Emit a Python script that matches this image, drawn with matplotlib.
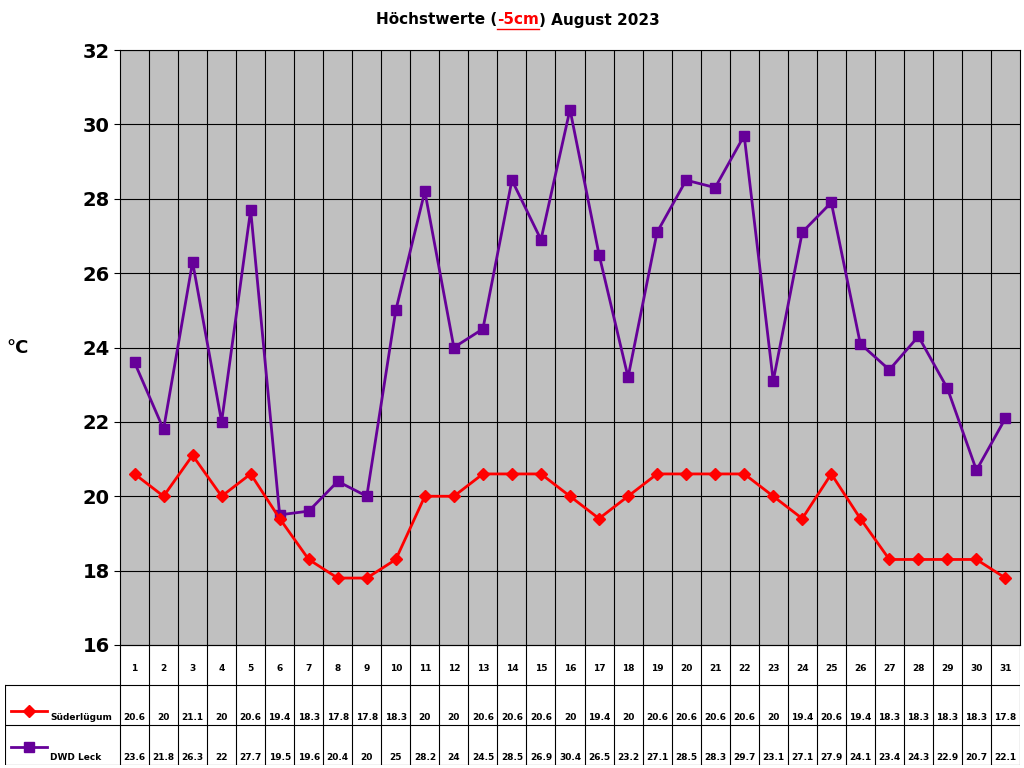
import matplotlib
matplotlib.use("Agg")
import matplotlib.pyplot as plt
from matplotlib.lines import Line2D

days = list(range(1, 32))
suederluegum = [20.6,20,21.1,20,20.6,19.4,18.3,17.8,17.8,18.3,20,20,20.6,20.6,20.6,20,19.4,20,20.6,20.6,20.6,20.6,20,19.4,20.6,19.4,18.3,18.3,18.3,18.3,17.8]
dwd_leck = [23.6,21.8,26.3,22,27.7,19.5,19.6,20.4,20,25,28.2,24,24.5,28.5,26.9,30.4,26.5,23.2,27.1,28.5,28.3,29.7,23.1,27.1,27.9,24.1,23.4,24.3,22.9,20.7,22.1]
series_names = ["Süderlügum", "DWD Leck"]
yticks = [16,18,20,22,24,26,28,30,32]

W, H = 1024, 768
fig = plt.figure(figsize=(10.24, 7.68), dpi=100)
fig.patch.set_facecolor("white")

ax = fig.add_axes([120/W, 1-645/H, 900/W, 595/H])
ax.set_facecolor("#c0c0c0")
ax.set_xlim(0.5, 31.5)
ax.set_ylim(16, 32)
ax.set_yticks(yticks)
ax.set_yticklabels([str(v) for v in yticks], fontsize=14, fontweight="bold")
ax.set_xticks([])
for y in yticks:
    ax.axhline(y, color="black", lw=0.8)
for x in range(1, 31):
    ax.axvline(x + 0.5, color="black", lw=0.8)
for s in ax.spines.values():
    s.set_color("black")
ax.tick_params(axis="y", length=4)
ax.plot(days, dwd_leck, color="#660099", lw=2, marker="s", ms=7.5, mfc="#660099", mec="#660099", zorder=3)
ax.plot(days, suederluegum, color="red", lw=2, marker="D", ms=6.5, mfc="red", mec="red", zorder=3)
fig.text(18/W, 1-348/H, "°C", fontsize=13, fontweight="bold", ha="center", va="center")

# table
tx = fig.add_axes([5/W, 1-765/H, 1015/W, 120/H])
left = 0.5 - 115/(900/31)
tx.set_xlim(left, 31.5)
tx.set_ylim(3, 0)
tx.axis("off")
lw = 0.8
for x in range(0, 32):
    tx.plot([x + 0.5, x + 0.5], [0, 3], color="black", lw=lw)
tx.plot([left, left], [1, 3], color="black", lw=lw)
for y in [1, 2, 3]:
    tx.plot([left, 31.5], [y, y], color="black", lw=lw)
tx.plot([0.5, 31.5], [0, 0], color="black", lw=lw)
fs = 6.5
for d in days:
    tx.text(d, 0.58, str(d), ha="center", va="center", fontsize=fs, fontweight="bold")
    tx.text(d, 1.8, f"{suederluegum[d-1]:g}", ha="center", va="center", fontsize=fs, fontweight="bold")
    tx.text(d, 2.8, f"{dwd_leck[d-1]:g}", ha="center", va="center", fontsize=fs, fontweight="bold")
lx0, lx1 = left + 0.2, left + 1.45
tx.plot([lx0, lx1], [1.65, 1.65], color="red", lw=2)
tx.plot([(lx0+lx1)/2], [1.65], marker="D", color="red", ms=6.5)
tx.text(left + 1.55, 1.8, series_names[0], va="center", fontsize=fs, fontweight="bold")
tx.plot([lx0, lx1], [2.55, 2.55], color="#660099", lw=2)
tx.plot([(lx0+lx1)/2], [2.55], marker="s", color="#660099", ms=7.5)
tx.text(left + 1.55, 2.8, series_names[1], va="center", fontsize=fs, fontweight="bold")

# title
parts = [("Höchstwerte (", "black"), ("-5cm", "red"), (") August 2023", "black")]
texts = [fig.text(0, 1-20/H, p, color=c, fontsize=11, fontweight="bold", va="center") for p, c in parts]
fig.canvas.draw()
r = fig.canvas.get_renderer()
widths = [t.get_window_extent(r).width for t in texts]
x = 518 - sum(widths)/2
for t, w in zip(texts, widths):
    t.set_x(x / W)
    x += w
ext = texts[1].get_window_extent(r)
fig.add_artist(Line2D([ext.x0/W, ext.x1/W], [(ext.y0-1)/H]*2, color="red", lw=1))

fig.savefig("out.png", dpi=100)
